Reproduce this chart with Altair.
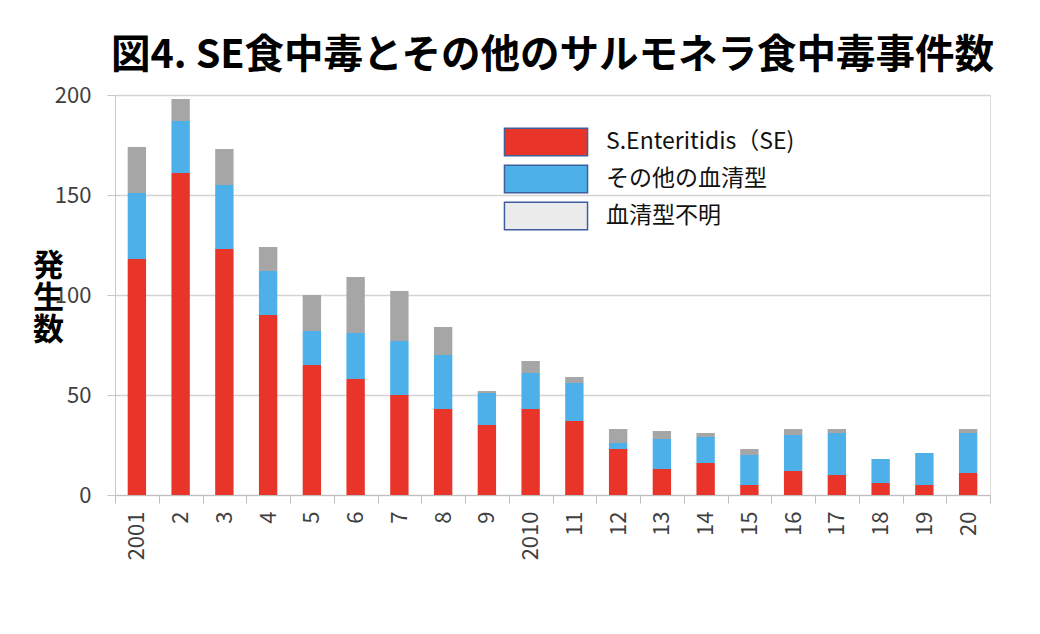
import altair as alt
import pandas as pd

years = ["2001", "2", "3", "4", "5", "6", "7", "8", "9", "2010",
         "11", "12", "13", "14", "15", "16", "17", "18", "19", "20"]
se_counts = [118, 161, 123, 90, 65, 58, 50, 43, 35, 43, 37, 23, 13, 16, 5, 12, 10, 6, 5, 11]
other_counts = [33, 26, 32, 22, 17, 23, 27, 27, 16, 18, 19, 3, 15, 13, 15, 18, 21, 12, 16, 20]
unknown_counts = [23, 11, 18, 12, 18, 28, 25, 14, 1, 6, 3, 7, 4, 2, 3, 3, 2, 0, 0, 2]
series_names = ["S.Enteritidis（SE)", "その他の血清型", "血清型不明"]
bar_colors = ["#E9342A", "#4DB0E9", "#A6A6A6"]
legend_colors = ["#E9342A", "#4DB0E9", "#EBEBEB"]

rows = []
for i, y in enumerate(years):
    for k, vals in enumerate([se_counts, other_counts, unknown_counts]):
        rows.append({"year": y, "series": series_names[k], "idx": k, "value": vals[i]})
df = pd.DataFrame(rows)

FONT = "Noto Sans CJK JP"

x_enc = alt.X("year:N", sort=years,
              scale=alt.Scale(paddingInner=0, paddingOuter=0),
              axis=alt.Axis(title=None, labelAngle=-90, labelFontSize=22, labelColor="#404040",
                            labelFont=FONT, tickBand="extent", tickSize=8, tickColor="#BFBFBF",
                            domainColor="#BFBFBF", labelPadding=8, labelBaseline="middle",
                            labelAlign="right"))

bars = alt.Chart(df).mark_bar(width=alt.RelativeBandSize(0.42)).encode(
    x=x_enc,
    y=alt.Y("value:Q", stack="zero",
            scale=alt.Scale(domain=[0, 200], nice=False),
            axis=alt.Axis(values=[0, 50, 100, 150, 200], labelFontSize=22, labelColor="#404040",
                          labelFont=FONT, tickSize=8, tickColor="#C8C8C8", domainColor="#C8C8C8",
                          gridColor="#D4D4D4", gridWidth=1.3, labelPadding=16,
                          title=["発", "生", "数"], titleAngle=0, titleFontSize=31,
                          titleFont=FONT, titleFontWeight="bold", titleColor="#000000",
                          titleLineHeight=32, titleX=-67, titleY=156, titleAlign="center",
                          titleBaseline="top")),
    color=alt.Color("series:N", scale=alt.Scale(domain=series_names, range=bar_colors), legend=None),
    order=alt.Order("idx:Q"),
)

legend_layer = alt.Chart(df).transform_filter("false").mark_bar().encode(
    color=alt.Color("series:N",
                    scale=alt.Scale(domain=series_names, range=legend_colors),
                    legend=alt.Legend(title=None, orient="none", legendX=416, legendY=32,
                                      symbolType="M-3,-1H3V1H-3Z", symbolSize=767,
                                      symbolStrokeColor="#3F5E9C", symbolStrokeWidth=1.5,
                                      symbolOpacity=1,
                                      labelFontSize=23, labelFont=FONT, labelColor="#111111",
                                      labelOffset=45, rowPadding=3, labelLimit=400,
                                      padding=0)),
)

chart = alt.layer(bars, legend_layer).resolve_scale(color="independent").properties(
    width=875, height=400,
    title=alt.TitleParams("図4. SE食中毒とその他のサルモネラ食中毒事件数", fontSize=39.5,
                          font=FONT, fontWeight="bold", color="#000000", anchor="middle",
                          offset=20, baseline="bottom", dy=51),
    autosize=alt.AutoSizeParams(type="none"),
    padding={"left": 107, "top": 87, "right": 40, "bottom": 120},
).configure_view(stroke=None).configure(background="white")

chart.save("out.html", embed_options={"renderer": "svg", "actions": False})
